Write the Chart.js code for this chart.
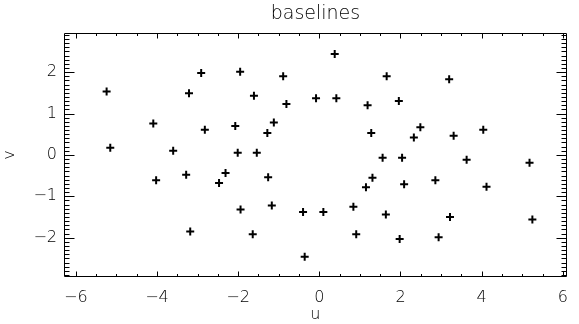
<!DOCTYPE html>
<html>
<head>
<meta charset="utf-8">
<script src="https://cdn.jsdelivr.net/npm/chart.js@4"></script>
<style>
  html, body { margin: 0; padding: 0; background: #fff; }
  #wrap { width: 579px; height: 324px; }
</style>
</head>
<body>
<div id="wrap"><canvas id="uvCanvas"></canvas></div>
<script>
// uv coverage, one entry per baseline
var uVals = [
  -5.24, -2.91, -1.95, -0.89, -3.21, -1.61, -0.81, -0.08, -4.09, -2.82,
  -2.07, -1.12, -1.28, -5.15, -3.60, -2.01, -1.54,
   0.38,  1.66,  3.20,  0.42,  1.19,  1.96,  1.28,  2.49,  2.33,  3.31,  4.04,
  -4.02, -3.28, -2.47, -2.31, -1.26, -1.94, -1.17, -0.40, -3.18, -1.64, -0.36,
   1.56,  2.04,  3.63,  5.18,  1.31,  1.15,  2.09,  2.86,  4.12,  0.10,  0.84,
   1.64,  3.22,  5.25,  0.91,  1.98,  2.94
];
var vVals = [
   1.53,  1.98,  2.01,  1.90,  1.49,  1.43,  1.23,  1.37,  0.76,  0.61,
   0.70,  0.78,  0.53,  0.17,  0.10,  0.05,  0.05,
   2.44,  1.90,  1.83,  1.37,  1.20,  1.30,  0.53,  0.67,  0.42,  0.46,  0.61,
  -0.61, -0.48, -0.68, -0.44, -0.54, -1.32, -1.22, -1.38, -1.85, -1.92, -2.46,
  -0.07, -0.07, -0.12, -0.19, -0.55, -0.78, -0.71, -0.61, -0.77, -1.38, -1.25,
  -1.44, -1.50, -1.56, -1.92, -2.03, -1.99
];
var xMajor = [-6, -4, -2, 0, 2, 4, 6];
var yMajor = [-2, -1, 0, 1, 2];

var points = uVals.map(function (x, i) { return { x: x, y: vVals[i] }; });

function minusLabel(value) {
  return value < 0 ? "\u2212" + Math.abs(value) : String(value);
}

// box around the plot with inward ticks on all four sides
var frameTicks = {
  id: "frameTicks",
  afterDraw: function (chart) {
    var ctx = chart.ctx, a = chart.chartArea;
    var xs = chart.scales.x, ys = chart.scales.y;
    var L = Math.round(a.left) + 0.5, R = Math.round(a.right) - 0.5;
    var T = Math.round(a.top) + 0.5, B = Math.round(a.bottom) - 0.5;
    ctx.save();
    ctx.strokeStyle = "#000";
    ctx.lineWidth = 1;
    ctx.beginPath();
    ctx.rect(L, T, R - L, B - T);
    // x ticks, minor every 0.5
    for (var k = -12; k <= 12; k++) {
      var val = k / 2;
      if (val < xs.min || val > xs.max) continue;
      var px = Math.round(xs.getPixelForValue(val)) + 0.5;
      var len = (k % 4 === 0) ? 5 : 2.5;
      ctx.moveTo(px, B); ctx.lineTo(px, B - len);
      ctx.moveTo(px, T); ctx.lineTo(px, T + len);
    }
    // y ticks, minor every 0.1
    for (var j = -30; j <= 30; j++) {
      var yv = j / 10;
      if (yv < ys.min || yv > ys.max) continue;
      var py = Math.round(ys.getPixelForValue(yv)) + 0.5;
      var ylen = (j % 10 === 0) ? 10 : 5;
      ctx.moveTo(L, py); ctx.lineTo(L + ylen, py);
      ctx.moveTo(R, py); ctx.lineTo(R - ylen, py);
    }
    ctx.stroke();
    ctx.restore();
  }
};

Chart.defaults.color = "#000";
Chart.defaults.font.family = "'DejaVu Sans', sans-serif";
Chart.defaults.font.weight = 300;

new Chart(document.getElementById("uvCanvas"), {
  type: "scatter",
  data: {
    datasets: [{
      data: points,
      pointStyle: "cross",
      pointRadius: 4,
      pointHoverRadius: 4,
      borderColor: "#000",
      borderWidth: 2,
      backgroundColor: "#000"
    }]
  },
  options: {
    responsive: true,
    maintainAspectRatio: false,
    animation: false,
    layout: { padding: { right: 5, left: 0, top: 0, bottom: 0 } },
    plugins: {
      legend: { display: false },
      tooltip: { enabled: false },
      title: {
        display: true,
        fullSize: false,
        text: "baselines",
        font: { size: 19, weight: 300 },
        padding: { top: 3, bottom: 7 }
      }
    },
    scales: {
      x: {
        type: "linear",
        min: -6.29,
        max: 6.10,
        grid: { display: false, drawTicks: false },
        border: { display: false },
        ticks: {
          stepSize: 2,
          includeBounds: false,
          maxRotation: 0,
          padding: 11,
          font: { size: 16, weight: 300 },
          callback: minusLabel
        },
        afterBuildTicks: function (scale) {
          scale.ticks = xMajor.map(function (t) { return { value: t }; });
        },
        title: { display: true, text: "u", font: { size: 16, weight: 300 }, padding: { top: 4, bottom: 0 } },
        afterFit: function (scale) { scale.height = 47; }
      },
      y: {
        type: "linear",
        min: -2.95,
        max: 2.95,
        grid: { display: false, drawTicks: false },
        border: { display: false },
        ticks: {
          stepSize: 1,
          includeBounds: false,
          padding: 7,
          font: { size: 16, weight: 300 },
          callback: minusLabel
        },
        afterBuildTicks: function (scale) {
          scale.ticks = yMajor.map(function (t) { return { value: t }; });
        },
        title: { display: true, text: "v", font: { size: 16, weight: 300 }, padding: { top: 0, bottom: 4 } },
        afterFit: function (scale) { scale.width = 64; }
      }
    }
  },
  plugins: [frameTicks]
});
</script>
</body>
</html>
